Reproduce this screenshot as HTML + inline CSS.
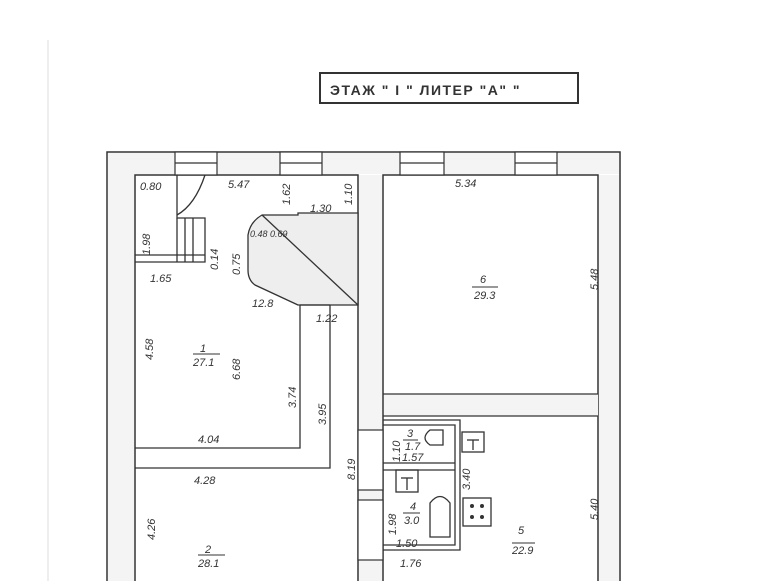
<!DOCTYPE html>
<html><head><meta charset="utf-8"><style>
html,body{margin:0;padding:0;background:#fff;}
svg{display:block}
text{font-family:"Liberation Sans",sans-serif;fill:#333;font-style:italic}
</style></head><body>
<svg width="776" height="581" viewBox="0 0 776 581" xmlns="http://www.w3.org/2000/svg">
<rect width="776" height="581" fill="#fff"/>
<line x1="48" y1="40" x2="48" y2="581" stroke="#ddd" stroke-width="1"/>
<rect x="320" y="73" width="258" height="30" fill="none" stroke="#333" stroke-width="2"/>
<text x="330" y="95" font-size="14" style="font-style:normal;font-weight:bold" letter-spacing="1.5">ЭТАЖ "  I  "  ЛИТЕР "А"   "</text>
<g fill="none" stroke="#333" stroke-width="1.5">
<path d="M107 581 V152 H620 V581"/>
<path d="M135 581 V175 H358 V581"/>
<path d="M383 581 V175 H598 V581"/>
</g>
<g fill="#f4f4f4" stroke="none">
<rect x="108" y="153" width="26" height="428"/>
<rect x="108" y="153" width="511" height="21"/>
<rect x="359" y="175" width="23" height="406"/>
<rect x="599" y="175" width="20" height="406"/>
<rect x="384" y="394" width="214" height="22"/>
</g>
<g fill="#fff" stroke="#333" stroke-width="1.2">
<rect x="175" y="152" width="42" height="23"/><line x1="175" y1="163" x2="217" y2="163"/>
<rect x="280" y="152" width="42" height="23"/><line x1="280" y1="163" x2="322" y2="163"/>
<rect x="400" y="152" width="44" height="23"/><line x1="400" y1="163" x2="444" y2="163"/>
<rect x="515" y="152" width="42" height="23"/><line x1="515" y1="163" x2="557" y2="163"/>
<rect x="358" y="430" width="25" height="60"/>
<rect x="358" y="500" width="25" height="60"/>
</g>
<g fill="none" stroke="#333" stroke-width="1.3">
<line x1="383" y1="394" x2="598" y2="394"/>
<line x1="383" y1="416" x2="598" y2="416"/>
<path d="M135 262 H205 V218 H177 V175"/>
<line x1="135" y1="255" x2="205" y2="255"/>
<line x1="177" y1="218" x2="177" y2="262"/><line x1="185" y1="218" x2="185" y2="262"/><line x1="193" y1="218" x2="193" y2="262"/>
<path d="M177 215 Q195 205 205 175"/>
<path d="M298 305 L255 285 Q248 280 248 270 V235 Q250 222 262 215 L298 215 V213 H358 V305 Z" fill="#eee"/>
<line x1="262" y1="215" x2="358" y2="305"/>
<path d="M300 305 V448 H135"/>
<path d="M330 305 V468 H135"/>
<line x1="300" y1="305" x2="330" y2="305"/>
<path d="M383 425 H455 V545 H383"/>
<path d="M383 420 H460 V550 H383"/>
<line x1="383" y1="463" x2="455" y2="463"/>
<line x1="383" y1="470" x2="455" y2="470"/>
<rect x="396" y="470" width="22" height="22"/>
<line x1="407" y1="478" x2="407" y2="490"/><line x1="401" y1="478" x2="413" y2="478"/>
<path d="M430 537 V503 Q440 490 450 503 V537 Z"/>
<path d="M443 430 V445 H430 Q420 438 430 430 Z"/>
<rect x="462" y="432" width="22" height="20"/>
<line x1="473" y1="440" x2="473" y2="450"/><line x1="467" y1="440" x2="479" y2="440"/>
<rect x="463" y="498" width="28" height="28"/>
</g>
<g fill="#333">
<circle cx="472" cy="506" r="2"/><circle cx="482" cy="506" r="2"/><circle cx="472" cy="517" r="2"/><circle cx="482" cy="517" r="2"/>
</g>
<g font-size="11">
<text x="140" y="190">0.80</text>
<text x="228" y="188">5.47</text>
<text x="290" y="205" transform="rotate(-90 290 205)">1.62</text>
<text x="352" y="205" transform="rotate(-90 352 205)">1.10</text>
<text x="310" y="212">1.30</text>
<text x="250" y="237" font-size="9">0.48 0.69</text>
<text x="240" y="275" transform="rotate(-90 240 275)">0.75</text>
<text x="218" y="270" transform="rotate(-90 218 270)">0.14</text>
<text x="150" y="255" transform="rotate(-90 150 255)">1.98</text>
<text x="150" y="282">1.65</text>
<text x="252" y="307">12.8</text>
<text x="316" y="322">1.22</text>
<text x="455" y="187">5.34</text>
<text x="598" y="290" transform="rotate(-90 598 290)">5.48</text>
<text x="480" y="283">6</text>
<line x1="472" y1="287" x2="498" y2="287" stroke="#333"/>
<text x="474" y="299">29.3</text>
<text x="200" y="352">1</text>
<line x1="193" y1="354" x2="220" y2="354" stroke="#333"/>
<text x="193" y="366">27.1</text>
<text x="153" y="360" transform="rotate(-90 153 360)">4.58</text>
<text x="240" y="380" transform="rotate(-90 240 380)">6.68</text>
<text x="296" y="408" transform="rotate(-90 296 408)">3.74</text>
<text x="326" y="425" transform="rotate(-90 326 425)">3.95</text>
<text x="198" y="443">4.04</text>
<text x="194" y="484">4.28</text>
<text x="355" y="480" transform="rotate(-90 355 480)">8.19</text>
<text x="155" y="540" transform="rotate(-90 155 540)">4.26</text>
<text x="205" y="553">2</text>
<line x1="198" y1="555" x2="225" y2="555" stroke="#333"/>
<text x="198" y="567">28.1</text>
<text x="407" y="437">3</text>
<line x1="403" y1="440" x2="418" y2="440" stroke="#333"/>
<text x="405" y="450">1.7</text>
<text x="400" y="462" transform="rotate(-90 400 462)">1.10</text>
<text x="402" y="461">1.57</text>
<text x="470" y="490" transform="rotate(-90 470 490)">3.40</text>
<text x="410" y="510">4</text>
<line x1="403" y1="513" x2="420" y2="513" stroke="#333"/>
<text x="404" y="524">3.0</text>
<text x="396" y="535" transform="rotate(-90 396 535)">1.98</text>
<text x="396" y="547">1.50</text>
<text x="400" y="567">1.76</text>
<text x="518" y="534">5</text>
<line x1="512" y1="543" x2="535" y2="543" stroke="#333"/>
<text x="512" y="554">22.9</text>
<text x="598" y="520" transform="rotate(-90 598 520)">5.40</text>
</g>
</svg>
</body></html>
